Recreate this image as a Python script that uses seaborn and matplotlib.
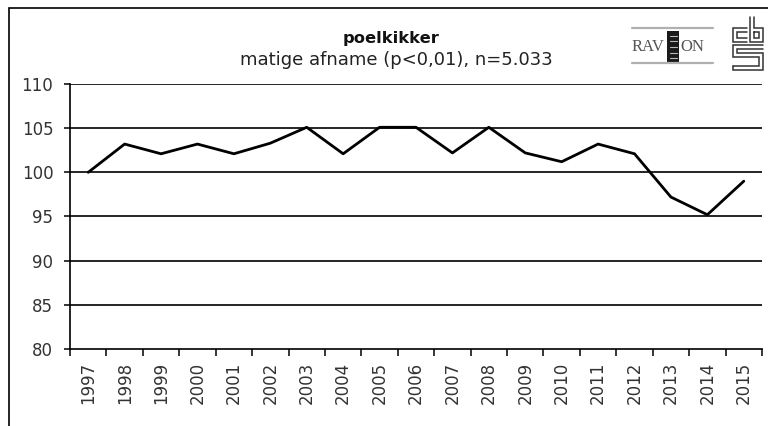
import matplotlib
matplotlib.use("Agg")
import matplotlib.pyplot as plt
import seaborn as sns
import pandas as pd
from matplotlib.patches import Rectangle
from matplotlib.lines import Line2D

years = [str(y) for y in range(1997, 2016)]
index_values = [100, 103.2, 102.1, 103.2, 102.1, 103.3, 105.1, 102.1, 105.1, 105.1,
                102.2, 105.1, 102.2, 101.2, 103.2, 102.1, 97.2, 95.2, 99.0]
y_ticks = [80, 85, 90, 95, 100, 105, 110]
title = "poelkikker"
subtitle = "matige afname (p<0,01), n=5.033"

df = pd.DataFrame({"pos": range(len(years)), "year": years, "value": index_values})

sns.set_theme(style="white")
plt.rcParams['font.family'] = ['DejaVu Sans']

fig = plt.figure(figsize=(7.68, 4.26), dpi=100)
W, H = 768, 426
ax = fig.add_axes([70 / W, 1 - 349 / H, (762 - 70) / W, (349 - 84) / H])

sns.lineplot(data=df, x="pos", y="value", ax=ax, color="black", linewidth=2.0)

ax.set_xlim(-0.5, len(years) - 0.5)
ax.set_ylim(80, 110)
ax.set_yticks(y_ticks)
ax.set_yticklabels([str(t) for t in y_ticks], fontsize=12, color="#333333")
for t in y_ticks[1:]:
    ax.axhline(t, color="black", linewidth=1.2, zorder=0)

ax.set_xticks([i - 0.5 for i in range(len(years) + 1)])
ax.set_xticklabels([])
ax.set_xticks(list(range(len(years))), minor=True)
ax.set_xticklabels(years, minor=True, rotation=90, fontsize=12, color="#333333")
ax.tick_params(axis="x", which="major", length=5, width=1.1, color="black", direction="out")
ax.tick_params(axis="x", which="minor", length=0, pad=9)
ax.tick_params(axis="y", length=4, width=1.1, color="black", direction="out", pad=8)
ax.tick_params(bottom=True, left=True, which="both")

for s in ["top", "right"]:
    ax.spines[s].set_visible(False)
for s in ["left", "bottom"]:
    ax.spines[s].set_color("black")
    ax.spines[s].set_linewidth(1.2)
ax.set_xlabel("")
ax.set_ylabel("")

fig.text(391 / W, 1 - 38 / H, title, ha="center", va="center", fontsize=11.7, fontweight="bold", color="#111111")
fig.text(396 / W, 1 - 60 / H, subtitle, ha="center", va="center", fontsize=13, color="#222222")

# outer frame
fig.patches.append(Rectangle((9 / W, -0.1), 1.2, (1 - 8 / H) + 0.1, transform=fig.transFigure,
                             fill=False, edgecolor="black", linewidth=1.2))

def fl(xs, ys, lw=1.1, color="#333333"):
    fig.lines.append(Line2D([x / W for x in xs], [1 - y / H for y in ys], transform=fig.transFigure,
                            color=color, linewidth=lw, solid_joinstyle="miter"))

# RAVON logo approximation
fig.text(632 / W, 1 - 47 / H, "RAV", ha="left", va="center", fontsize=12, color="#555555",
         family="Liberation Serif")
fig.patches.append(Rectangle((667 / W, 1 - 63 / H), 12 / W, 32 / H, transform=fig.transFigure,
                             facecolor="#1a1a1a", edgecolor="none"))
for yy in (36, 41, 47, 53, 58):
    fl([669.5, 676.5], [yy, yy], lw=0.8, color="#bbbbbb")
fig.text(680 / W, 1 - 47 / H, "ON", ha="left", va="center", fontsize=12, color="#555555",
         family="Liberation Serif")
for yy in (28, 63):
    fl([632, 713], [yy, yy], lw=1.6, color="#b0b0b0")

# cbs logo approximation
fl([747, 733, 733, 747], [28, 28, 42, 42])
fl([747, 737, 737, 747], [32, 32, 38, 38])
fl([750, 750, 763, 763, 754, 754], [17, 42, 42, 28, 28, 17])
fl([754, 759, 759, 754, 754], [32, 32, 38, 38, 32])
fl([763, 733, 733, 759, 759, 733], [45, 45, 57, 57, 66, 66])
fl([763, 737, 737, 763, 763, 733, 733], [49, 49, 53, 53, 70, 70, 66])

fig.savefig("out.png", dpi=100)
